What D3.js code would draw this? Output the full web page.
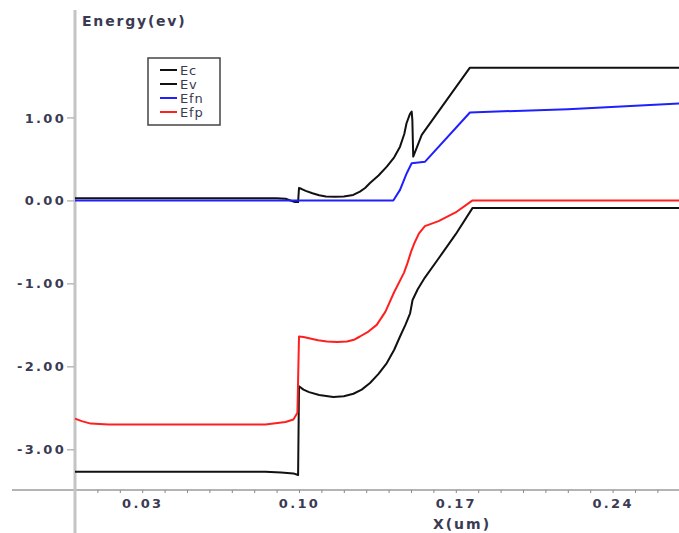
<!DOCTYPE html>
<html>
<head>
<meta charset="utf-8">
<script src="https://cdn.jsdelivr.net/npm/d3@7"></script>
<style>
  body { margin: 0; background: #fff; }
  svg { display: block; }
  .lbl { font-family: "DejaVu Sans", Verdana, sans-serif; fill: #3a3a52; }
</style>
</head>
<body>
<div id="chart"></div>
<script>
// band energies along the device, x in um, energy in eV
const ecData = [[0, 0.027], [0.09, 0.027], [0.094, 0.02], [0.0982, -0.02], [0.0996, -0.02], [0.1, 0.15],
  [0.101, 0.14], [0.103, 0.115], [0.106, 0.087], [0.109, 0.062], [0.112, 0.048], [0.116, 0.043],
  [0.12, 0.046], [0.1242, 0.066], [0.1272, 0.106], [0.1295, 0.15], [0.1317, 0.21], [0.1355, 0.3],
  [0.1392, 0.407], [0.1425, 0.52], [0.1451, 0.648], [0.147, 0.8], [0.148, 0.93], [0.1495, 1.04],
  [0.1503, 1.07], [0.1506, 0.97], [0.151, 0.528], [0.1548, 0.79], [0.1763, 1.6], [0.27, 1.6]];
const evData = [[0, -3.27], [0.085, -3.27], [0.092, -3.28], [0.0975, -3.29], [0.0996, -3.31], [0.1, -2.24],
  [0.102, -2.28], [0.1045, -2.31], [0.109, -2.345], [0.1153, -2.37], [0.12, -2.36], [0.1243, -2.33],
  [0.128, -2.28], [0.1317, -2.2], [0.1355, -2.09], [0.1392, -1.96], [0.1425, -1.8], [0.1451, -1.64],
  [0.1475, -1.5], [0.1496, -1.36], [0.1507, -1.2], [0.153, -1.07], [0.1562, -0.93], [0.1623, -0.7],
  [0.1699, -0.41], [0.1775, -0.09], [0.27, -0.09]];
const efnData = [[0, 0], [0.1421, 0], [0.1451, 0.127], [0.1481, 0.328], [0.1503, 0.448], [0.1563, 0.467],
  [0.1763, 1.06], [0.22, 1.1], [0.27, 1.17]];
const efpData = [[0, -2.63], [0.003, -2.66], [0.007, -2.69], [0.015, -2.7], [0.085, -2.7], [0.094, -2.67],
  [0.0975, -2.64], [0.0993, -2.56], [0.1, -1.64], [0.102, -1.645], [0.1045, -1.66], [0.1085, -1.685],
  [0.1125, -1.7], [0.117, -1.705], [0.1214, -1.7], [0.1245, -1.68], [0.1272, -1.64], [0.131, -1.58],
  [0.1347, -1.5], [0.1386, -1.34], [0.1424, -1.11], [0.1469, -0.87], [0.1485, -0.75], [0.15, -0.62],
  [0.1516, -0.51], [0.1535, -0.4], [0.1562, -0.31], [0.1623, -0.25], [0.1699, -0.145], [0.1775, 0],
  [0.27, 0]];

const seriesNames = ["Ec", "Ev", "Efn", "Efp"];
const seriesColors = ["#111111", "#111111", "#1f1fff", "#ff1f1f"];
const seriesData = [ecData, evData, efnData, efpData];

const yTicks = [-3, -2, -1, 0, 1];
const xTicks = d3.range(1, 27).map(i => i / 100);
const xLabelTicks = [0.03, 0.10, 0.17, 0.24];

const width = 679, height = 533;
const svg = d3.select("#chart").append("svg")
  .attr("width", width)
  .attr("height", height);

const x = d3.scaleLinear().domain([0, 0.27]).range([75, 679.8]);
const y = d3.scaleLinear().domain([-3.49, 2.295]).range([490, 10]);

// axis lines
svg.append("line")
  .attr("x1", 12).attr("x2", width).attr("y1", 490).attr("y2", 490)
  .attr("stroke", "#b4b4b4").attr("stroke-width", 2);
svg.append("line")
  .attr("x1", 75).attr("x2", 75).attr("y1", 10).attr("y2", height)
  .attr("stroke", "#c4c4c4").attr("stroke-width", 3);

// y axis ticks
const yAxis = svg.append("g")
  .attr("transform", "translate(74,0)")
  .call(d3.axisLeft(y).tickValues(yTicks).tickSize(7).tickPadding(1).tickFormat(d => d.toFixed(2)));
yAxis.select(".domain").remove();
yAxis.selectAll(".tick line").attr("stroke", "#999");
yAxis.selectAll("text")
  .attr("class", "lbl")
  .attr("font-size", 13).attr("font-weight", "bold").attr("letter-spacing", 2.3)
  .attr("dy", "0.35em");

// x axis ticks
const xAxis = svg.append("g")
  .attr("transform", "translate(0,490)")
  .call(d3.axisBottom(x).tickValues(xTicks).tickSize(3).tickPadding(6)
    .tickFormat(d => xLabelTicks.some(v => Math.abs(v - d) < 1e-9) ? d.toFixed(2) : ""));
xAxis.select(".domain").remove();
xAxis.selectAll(".tick line").attr("stroke", "#888");
xAxis.selectAll("text")
  .attr("class", "lbl")
  .attr("font-size", 13).attr("font-weight", "bold").attr("letter-spacing", 2.3);

// axis titles
svg.append("text").attr("class", "lbl")
  .attr("x", 82).attr("y", 26)
  .attr("font-size", 14).attr("font-weight", "bold").attr("letter-spacing", 1.8)
  .text("Energy(ev)");
svg.append("text").attr("class", "lbl")
  .attr("x", 462).attr("y", 529).attr("text-anchor", "middle")
  .attr("font-size", 14).attr("font-weight", "bold").attr("letter-spacing", 2)
  .text("X(um)");

// curves
const line = d3.line().x(d => x(d[0])).y(d => y(d[1]));
svg.append("g").selectAll("path")
  .data(seriesData)
  .join("path")
  .attr("d", line)
  .attr("fill", "none")
  .attr("stroke", (d, i) => seriesColors[i])
  .attr("stroke-width", 2)
  .attr("stroke-linejoin", "round");

// legend
const legend = svg.append("g");
legend.append("rect")
  .attr("x", 148).attr("y", 58).attr("width", 72).attr("height", 67)
  .attr("fill", "#fff").attr("stroke", "#444").attr("stroke-width", 1.5);
const items = legend.selectAll("g.item")
  .data(seriesNames)
  .join("g")
  .attr("class", "item")
  .attr("transform", (d, i) => `translate(0,${70 + i * 14})`);
items.append("line")
  .attr("x1", 160).attr("x2", 177)
  .attr("stroke", (d, i) => seriesColors[i]).attr("stroke-width", 2);
items.append("text").attr("class", "lbl")
  .attr("x", 180).attr("dy", "0.35em")
  .attr("font-size", 13).attr("letter-spacing", 0.8)
  .text(d => d);
</script>
</body>
</html>
